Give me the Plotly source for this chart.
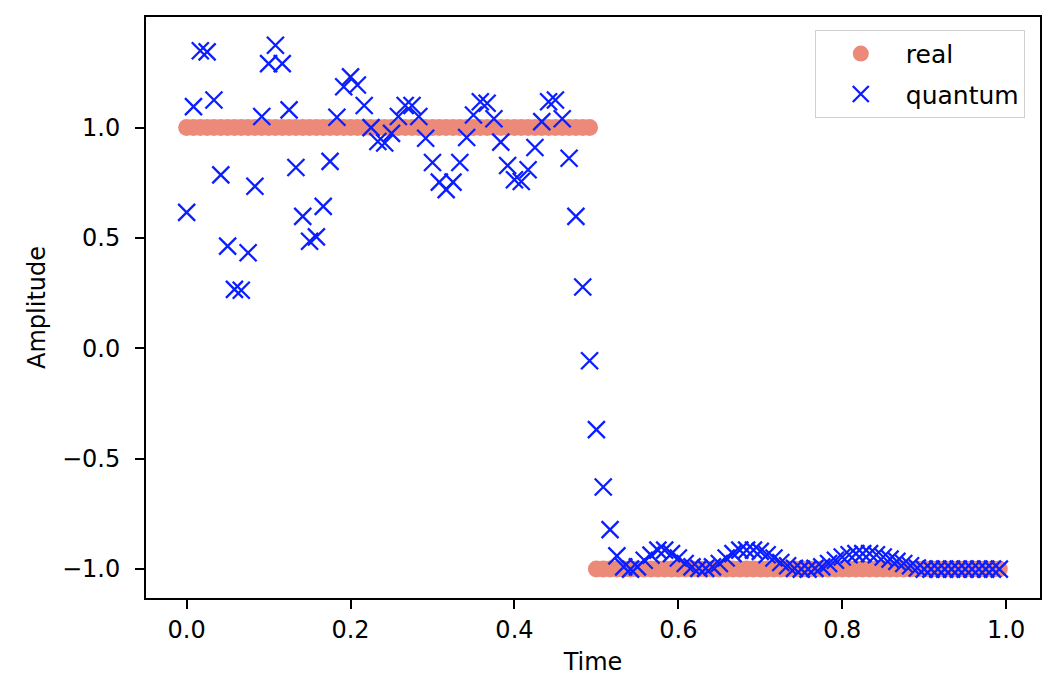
import numpy as np
import plotly.graph_objects as go

N = 120
time = [i / N for i in range(N)]

real = [1.0] * 60 + [-1.0] * 60

quantum = [
    0.616, 1.095, 1.348, 1.343, 1.125, 0.786, 0.463, 0.267, 0.263, 0.433,
    0.734, 1.050, 1.290, 1.373, 1.290, 1.080, 0.819, 0.598, 0.485, 0.505,
    0.643, 0.847, 1.047, 1.185, 1.230, 1.193, 1.100, 1.000, 0.937, 0.930,
    0.974, 1.050, 1.100, 1.100, 1.050, 0.952, 0.842, 0.753, 0.719, 0.753,
    0.842, 0.955, 1.057, 1.117, 1.110, 1.040, 0.934, 0.828, 0.764, 0.756,
    0.809, 0.910, 1.027, 1.117, 1.125, 1.040, 0.861, 0.598, 0.278, -0.056,
    -0.368, -0.628, -0.821, -0.940, -0.990, -1.000, -0.990, -0.960, -0.937, -0.914,
    -0.914, -0.930, -0.950, -0.975, -0.990, -0.997, -0.997, -0.990, -0.975, -0.950,
    -0.930, -0.914, -0.914, -0.914, -0.920, -0.935, -0.950, -0.970, -0.985, -0.997,
    -1.000, -1.000, -0.997, -0.990, -0.975, -0.960, -0.945, -0.935, -0.930, -0.930,
    -0.930, -0.935, -0.945, -0.955, -0.965, -0.975, -0.985, -0.995, -1.000, -1.000,
    -1.000, -1.000, -1.000, -1.000, -1.000, -1.000, -1.000, -1.000, -1.000, -1.000,
]

x_ticks = [0.0, 0.2, 0.4, 0.6, 0.8, 1.0]
y_ticks = [-1.0, -0.5, 0.0, 0.5, 1.0]

FONT = "DejaVu Sans"

fig = go.Figure()
fig.add_trace(go.Scatter(
    x=time, y=real, mode="markers", name="real", legendgroup="a",
    marker=dict(symbol="circle", size=17, color="#EC8A7A", line=dict(width=0)),
))
fig.add_trace(go.Scatter(
    x=time, y=quantum, mode="markers", name="quantum", legendgroup="b",
    marker=dict(symbol="x-thin", size=17, color="#0a1eff",
                line=dict(width=2.3, color="#0a1eff")),
))

axis_common = dict(
    showline=True, mirror=True, linecolor="black", linewidth=2,
    ticks="outside", ticklen=9, tickwidth=2, tickcolor="black",
    showgrid=False, zeroline=False,
    tickfont=dict(family=FONT, size=24, color="black"),
)

fig.update_xaxes(
    range=[-0.0496, 1.0413], tickvals=x_ticks, tickformat=".1f",
    title=dict(text="Time", font=dict(family=FONT, size=24, color="black"), standoff=10),
    ticklabelstandoff=0,
    **axis_common,
)
fig.update_yaxes(
    range=[-1.131, 1.501], tickvals=y_ticks, tickformat=".1f",
    title=dict(text="Amplitude", font=dict(family=FONT, size=24, color="black"), standoff=10),
    ticklabelstandoff=10,
    **axis_common,
)

fig.update_layout(
    width=1052, height=682,
    margin=dict(l=138, r=20, t=7, b=92),
    paper_bgcolor="white", plot_bgcolor="white",
    font=dict(family=FONT, size=24, color="black"),
    showlegend=True,
    legend=dict(
        x=0.983, y=0.978, xanchor="right", yanchor="top",
        bgcolor="rgba(255,255,255,0.8)", bordercolor="#d0d0d0", borderwidth=1,
        font=dict(family=FONT, size=25, color="black"),
        itemsizing="trace", itemwidth=80,
        traceorder="grouped", tracegroupgap=5,
    ),
)

fig.write_html("out.html")
